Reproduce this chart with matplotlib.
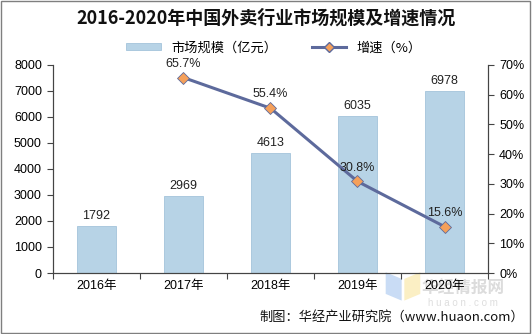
import matplotlib.pyplot as plt
from matplotlib.lines import Line2D
from matplotlib.patches import Patch, Polygon

plt.rcParams['font.family'] = ['Liberation Sans', 'Noto Sans CJK SC', 'DejaVu Sans']

years = ['2016年', '2017年', '2018年', '2019年', '2020年']
market = [1792, 2969, 4613, 6035, 6978]
growth_years = ['2017年', '2018年', '2019年', '2020年']
growth = [65.7, 55.4, 30.8, 15.6]

bar_color = '#b7d3e6'
line_color = '#5d6a9c'
marker_color = '#f5a05a'

fig = plt.figure(figsize=(5.32, 3.34), dpi=100)
ax = fig.add_axes([0.0996, 0.1826, 0.8177, 0.6234])
ax2 = ax.twinx()
ax.patch.set_alpha(0)

x = list(range(len(years)))
bars = ax.bar(x, market, width=0.45, color=bar_color, edgecolor='#a4c4db', linewidth=0.6, zorder=2)
for xi, v in zip(x, market):
    ax.text(xi, v + 150, str(v), ha='center', va='bottom', fontsize=9, color='#222222')

gx = [years.index(y) for y in growth_years]
ax2.plot(gx, growth, color=line_color, linewidth=2.2, marker='D', markersize=6,
         markerfacecolor=marker_color, markeredgecolor=line_color, markeredgewidth=0.6, zorder=3)
for xi, v in zip(gx, growth):
    ax2.text(xi, v + 2.6, f'{v}%', ha='center', va='bottom', fontsize=9, color='#222222')

ax.set_xlim(-0.5, 4.5)
ax.set_ylim(0, 8000)
ax.set_yticks(range(0, 8001, 1000))
ax2.set_ylim(0, 70)
ax2.set_yticks(range(0, 71, 10))
ax2.set_yticklabels([f'{t}%' for t in range(0, 71, 10)])

ax.set_xticks(x)
ax.set_xticklabels(years)
ax.set_xticks([i - 0.5 for i in range(6)], minor=True)
ax.tick_params(axis='x', which='major', length=0, labelsize=9, pad=5)
ax.tick_params(axis='x', which='minor', length=4, width=0.8, color='#444444')
ax.tick_params(axis='y', labelsize=9, length=4, width=0.8, color='#444444', pad=4)
ax2.tick_params(axis='y', labelsize=9, length=4, width=0.8, color='#444444', pad=4)

for a in (ax, ax2):
    a.spines['top'].set_visible(False)
    for s in ('left', 'right', 'bottom'):
        a.spines[s].set_color('#444444')
        a.spines[s].set_linewidth(0.8)

fig.text(0.5, 0.945, '2016-2020年中国外卖行业市场规模及增速情况', ha='center', va='center',
         fontsize=13, fontweight='bold', family=['Noto Sans CJK SC', 'DejaVu Sans'], color='#111111')

handles = [Patch(facecolor=bar_color, edgecolor='#a4c4db', linewidth=0.6),
           Line2D([], [], color=line_color, linewidth=2.2, marker='D', markersize=5,
                  markerfacecolor=marker_color, markeredgecolor=line_color)]
fig.legend(handles, ['市场规模（亿元）', '增速（%）'], loc='center', bbox_to_anchor=(0.515, 0.857),
           ncol=2, frameon=False, handlelength=2.6, handleheight=0.5,
           columnspacing=2.6, prop={'family': ['Noto Sans CJK SC', 'DejaVu Sans'], 'size': 9.5})

# watermark logo, kept behind the axes
fig.patches.append(Polygon([(0.725, 0.185), (0.755, 0.165), (0.755, 0.10), (0.725, 0.12)],
                           closed=True, transform=fig.transFigure, facecolor='#c9dcf5',
                           edgecolor='none', zorder=-2))
fig.patches.append(Polygon([(0.76, 0.165), (0.79, 0.185), (0.79, 0.12), (0.76, 0.10)],
                           closed=True, transform=fig.transFigure, facecolor='#fbefc4',
                           edgecolor='none', zorder=-2))
fig.text(0.87, 0.135, '华经情报网', ha='center', va='center', fontsize=12, fontweight='bold',
         family=['Noto Sans CJK SC'], color='#dcdcdc', zorder=-2)
fig.text(0.87, 0.092, 'h u a o n . c o m', ha='center', va='center', fontsize=7,
         color='#dedede', zorder=-2)

fig.text(0.985, 0.05, '制图：华经产业研究院（www.huaon.com）', ha='right', va='center',
         fontsize=9.5, family=['Noto Sans CJK SC', 'DejaVu Sans'], color='#111111')

fig.patches.append(plt.Rectangle((0.002, 0.003), 0.995, 0.994, transform=fig.transFigure,
                                 fill=False, edgecolor='#7f7f7f', linewidth=1.0))

fig.savefig('out.png', dpi=100)
